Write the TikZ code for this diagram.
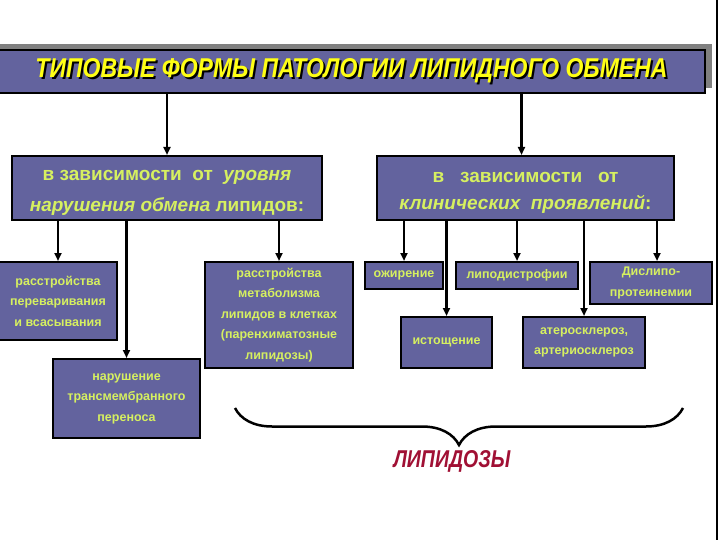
\documentclass[tikz,border=0pt]{standalone}
\usepackage{fontspec}
\setmainfont{Liberation Sans}
\usetikzlibrary{positioning, arrows.meta, decorations.pathreplacing}

\definecolor{boxfill}{RGB}{99,99,158}
\definecolor{boxtext}{RGB}{214,240,96}
\definecolor{headyellow}{RGB}{255,255,20}
\definecolor{lipred}{RGB}{160,16,52}

\tikzset{
  box/.style={draw=black, line width=2pt, fill=boxfill, text=boxtext,
    inner sep=0pt, align=center, font=\bfseries\fontsize{12.5}{20.5}\selectfont},
  bigbox/.style={box, font=\bfseries\fontsize{19}{31}\selectfont},
  arr/.style={line width=2.4pt, -{Triangle[length=8pt,width=7pt]}}
}

\newcommand\shtext[1]{\rlap{\kern2pt\raisebox{-2pt}{\color{black}#1}}{\color{headyellow}#1}}
\newcommand\lowtext[1]{\raisebox{-5pt}[\height][\depth]{\shortstack{#1}}}

\begin{document}
\begin{tikzpicture}[x=1pt, y=-1pt]
	      \useasboundingbox (0,0) rectangle (720,540);
	      % header with grey shadow
	      \fill[gray] (0,44) rectangle (712,88);
	      \node[box, minimum width=707pt, minimum height=43pt] (hdr) at (351.5,71.5)
	        {\shtext{\resizebox{632pt}{19pt}{\bfseries\itshape ТИПОВЫЕ ФОРМЫ ПАТОЛОГИИ ЛИПИДНОГО ОБМЕНА}}};
	      \draw[line width=2pt] (717,0) -- (717,540);

	      \node[bigbox, minimum width=310pt, minimum height=64pt] (lev) at (167,188)
	        {\lowtext{в зависимости \ от \ \textit{уровня}\\[10pt] \textit{нарушения обмена} липидов:}};
	      \node[bigbox, minimum width=297pt, minimum height=64pt] (cli) at (525.5,188)
	        {\lowtext{в \ \ зависимости \ \ от\\[10pt] \textit{клинических \ проявлений}:}};

	      \node[box, minimum width=118pt, minimum height=78pt] (dig) at (58,301)
	        {расстройства\\ переваривания\\ и всасывания};
	      \node[box, minimum width=147pt, minimum height=79pt] (trn) at (126.5,398.5)
	        {нарушение\\ трансмембранного\\ переноса};
	      \node[box, minimum width=148pt, minimum height=106pt] (met) at (279,315)
	        {расстройства\\ метаболизма\\ липидов в клетках\\ (паренхиматозные\\ липидозы)};

	      \node[box, minimum width=78pt, minimum height=27pt] (obe) at (404,275.5) {ожирение};
	      \node[box, minimum width=122pt, minimum height=27pt] (lpd) at (517,275.5) {липодистрофии};
	      \node[box, minimum width=122pt, minimum height=42pt] (dys) at (651,283) {Дислипо-\\ протеинемии};
	      \node[box, minimum width=91pt, minimum height=51pt] (exh) at (446.5,342.5) {истощение};
	      \node[box, minimum width=122pt, minimum height=51pt] (ath) at (584,342.5) {атеросклероз,\\ артериосклероз};

	      \draw[arr] (hdr.south -| lev.north) -- (lev.north);
	      \draw[arr] ([xshift=-4pt]hdr.south -| cli.north) -- ([xshift=-4pt]cli.north);
	      \draw[arr] (lev.south -| dig.north) -- (dig.north);
	      \draw[arr] (lev.south -| trn.north) -- (trn.north);
	      \draw[arr] (lev.south -| met.north) -- (met.north);
	      \draw[arr] (cli.south -| obe.north) -- (obe.north);
	      \draw[arr] (cli.south -| exh.north) -- (exh.north);
	      \draw[arr] (cli.south -| lpd.north) -- (lpd.north);
	      \draw[arr] (cli.south -| ath.north) -- (ath.north);
	      \draw[arr] ([xshift=6pt]cli.south -| dys.north) -- ([xshift=6pt]dys.north);

	      % brace
	      \coordinate (bl) at (235,408);
	      \coordinate (br) at (683,408);
	      \draw[line width=2.5pt, decorate, decoration={brace, amplitude=37pt, mirror}] (bl) -- (br);
	      \node[text=lipred] (lip) at (452,461)
	        {\resizebox{117pt}{17pt}{\bfseries\itshape ЛИПИДОЗЫ}};
	      \end{tikzpicture}
\end{document}
